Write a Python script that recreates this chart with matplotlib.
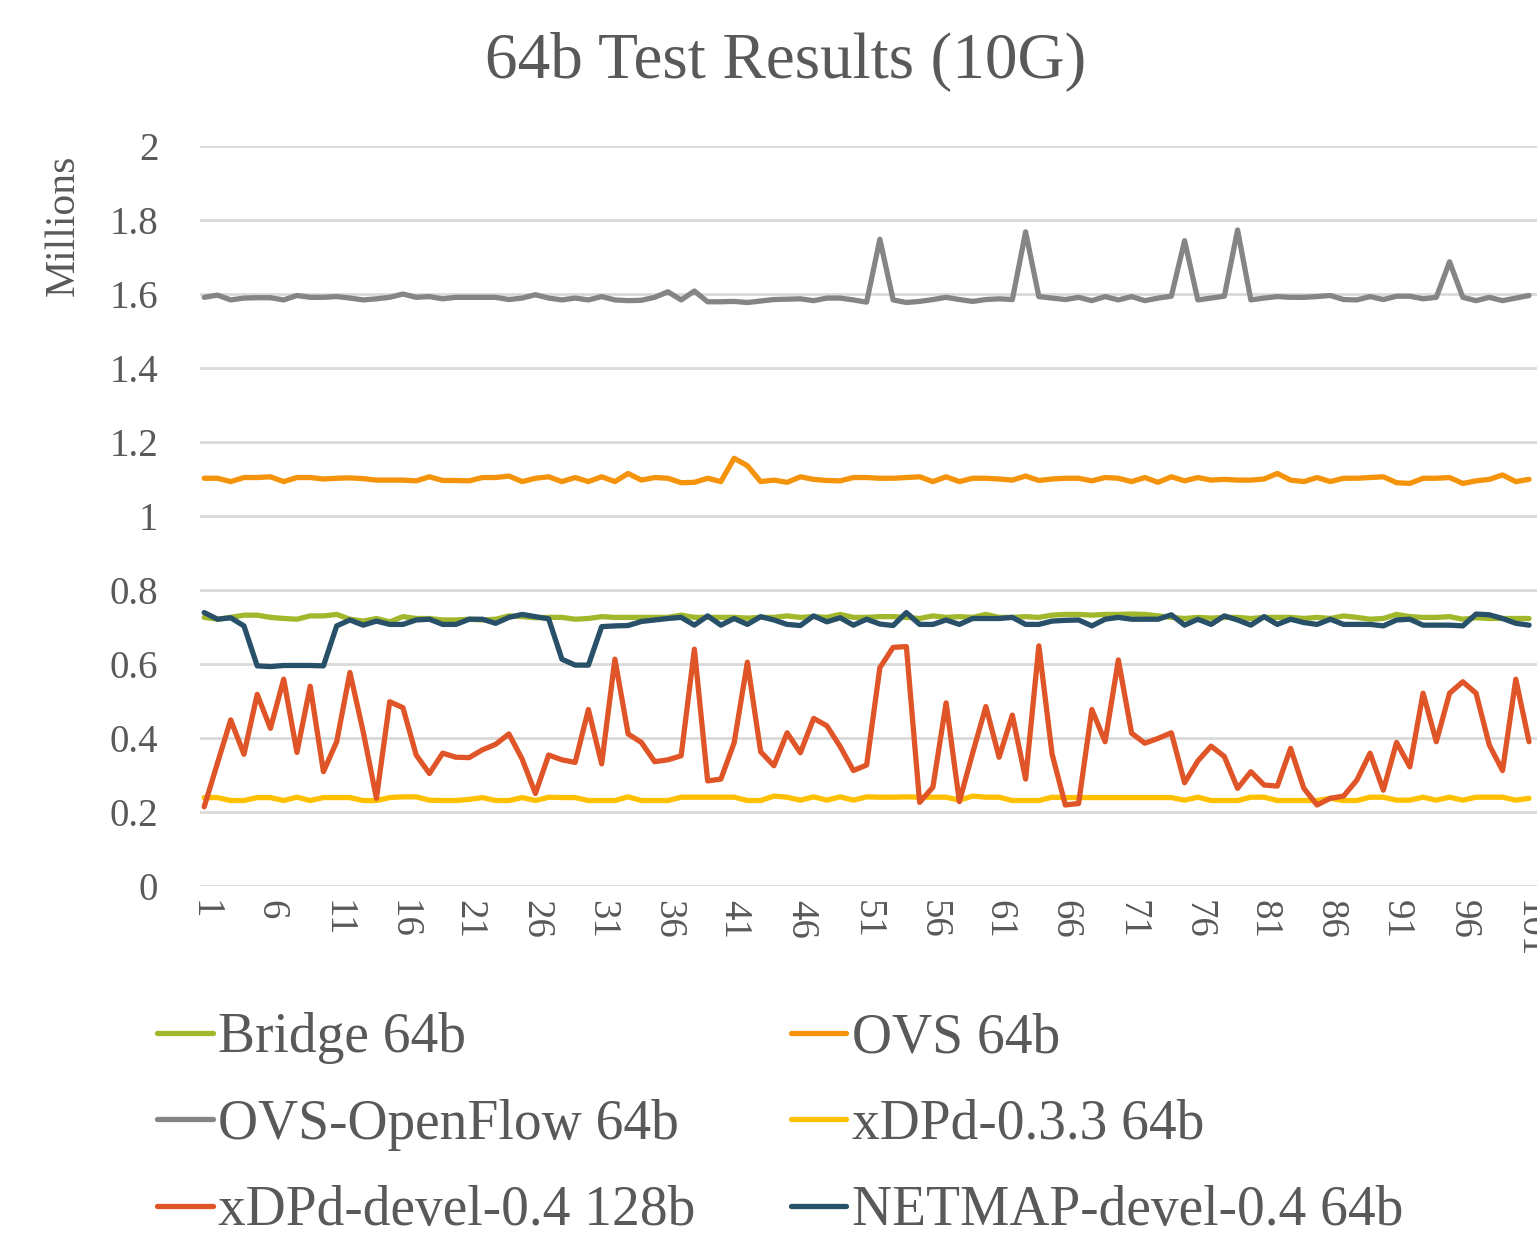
import matplotlib
matplotlib.use('Agg')
import matplotlib.pyplot as plt
import numpy as np

plt.rcParams['font.family'] = ['Liberation Serif', 'DejaVu Serif']

runs = np.arange(1, 102)

bridge = [0.726, 0.721, 0.726, 0.732, 0.732, 0.726, 0.723, 0.721, 0.730, 0.730,
          0.734, 0.721, 0.716, 0.723, 0.714, 0.728, 0.723, 0.723, 0.719, 0.719,
          0.721, 0.719, 0.721, 0.730, 0.728, 0.725, 0.726, 0.726, 0.721, 0.723,
          0.728, 0.726, 0.726, 0.726, 0.726, 0.726, 0.732, 0.726, 0.726, 0.726,
          0.726, 0.724, 0.726, 0.726, 0.730, 0.726, 0.728, 0.726, 0.734, 0.726,
          0.726, 0.728, 0.728, 0.726, 0.723, 0.730, 0.726, 0.728, 0.726, 0.734,
          0.726, 0.726, 0.728, 0.726, 0.732, 0.734, 0.734, 0.732, 0.734, 0.734,
          0.735, 0.734, 0.730, 0.726, 0.723, 0.726, 0.724, 0.726, 0.726, 0.723,
          0.726, 0.726, 0.726, 0.723, 0.726, 0.723, 0.730, 0.726, 0.721, 0.723,
          0.734, 0.728, 0.726, 0.726, 0.728, 0.721, 0.725, 0.723, 0.723, 0.723,
          0.723]

ovs = [1.102, 1.102, 1.093, 1.104, 1.104, 1.106, 1.093, 1.104, 1.104, 1.100,
       1.102, 1.103, 1.101, 1.097, 1.097, 1.097, 1.095, 1.106, 1.096, 1.096,
       1.095, 1.104, 1.104, 1.108, 1.093, 1.102, 1.106, 1.093, 1.104, 1.093,
       1.106, 1.093, 1.115, 1.097, 1.104, 1.102, 1.090, 1.091, 1.102, 1.093,
       1.156, 1.136, 1.093, 1.097, 1.091, 1.106, 1.099, 1.096, 1.095, 1.104,
       1.104, 1.102, 1.102, 1.104, 1.106, 1.093, 1.106, 1.093, 1.102, 1.102,
       1.100, 1.097, 1.108, 1.096, 1.100, 1.102, 1.102, 1.095, 1.104, 1.102,
       1.093, 1.104, 1.091, 1.106, 1.095, 1.104, 1.097, 1.099, 1.097, 1.097,
       1.100, 1.115, 1.097, 1.093, 1.104, 1.093, 1.102, 1.102, 1.104, 1.106,
       1.090, 1.088, 1.102, 1.102, 1.104, 1.088, 1.095, 1.099, 1.111, 1.093,
       1.099]

ovs_openflow = [1.591, 1.597, 1.584, 1.589, 1.590, 1.590, 1.584, 1.596, 1.591, 1.591,
                1.593, 1.589, 1.584, 1.587, 1.591, 1.600, 1.591, 1.593, 1.587, 1.591,
                1.591, 1.591, 1.591, 1.585, 1.589, 1.598, 1.589, 1.584, 1.589, 1.584,
                1.593, 1.584, 1.582, 1.583, 1.591, 1.606, 1.584, 1.608, 1.579, 1.579,
                1.580, 1.577, 1.581, 1.585, 1.586, 1.587, 1.582, 1.589, 1.589, 1.584,
                1.578, 1.748, 1.584, 1.577, 1.580, 1.585, 1.591, 1.585, 1.580, 1.585,
                1.587, 1.585, 1.768, 1.593, 1.589, 1.585, 1.591, 1.582, 1.593, 1.584,
                1.593, 1.582, 1.589, 1.594, 1.744, 1.584, 1.589, 1.594, 1.773, 1.584,
                1.589, 1.593, 1.591, 1.591, 1.593, 1.596, 1.585, 1.584, 1.593, 1.585,
                1.594, 1.594, 1.587, 1.591, 1.687, 1.591, 1.582, 1.591, 1.582, 1.589,
                1.596]

xdpd_033 = [0.239, 0.239, 0.231, 0.231, 0.239, 0.239, 0.231, 0.240, 0.231, 0.239,
            0.239, 0.239, 0.231, 0.231, 0.239, 0.241, 0.241, 0.232, 0.231, 0.231,
            0.234, 0.239, 0.231, 0.231, 0.239, 0.231, 0.240, 0.239, 0.239, 0.231,
            0.231, 0.231, 0.241, 0.231, 0.231, 0.231, 0.240, 0.240, 0.240, 0.240,
            0.240, 0.231, 0.231, 0.243, 0.240, 0.232, 0.241, 0.232, 0.241, 0.232,
            0.241, 0.240, 0.240, 0.241, 0.240, 0.240, 0.240, 0.232, 0.243, 0.240,
            0.240, 0.231, 0.231, 0.231, 0.240, 0.239, 0.239, 0.239, 0.239, 0.239,
            0.239, 0.239, 0.239, 0.239, 0.232, 0.240, 0.231, 0.231, 0.231, 0.240,
            0.240, 0.231, 0.231, 0.231, 0.231, 0.237, 0.231, 0.231, 0.240, 0.240,
            0.232, 0.232, 0.240, 0.232, 0.240, 0.232, 0.240, 0.240, 0.240, 0.232,
            0.237]

xdpd_devel = [0.214, 0.332, 0.449, 0.356, 0.518, 0.426, 0.559, 0.361, 0.540, 0.309,
              0.390, 0.577, 0.417, 0.237, 0.498, 0.482, 0.354, 0.304, 0.359, 0.348,
              0.347, 0.368, 0.383, 0.411, 0.343, 0.250, 0.354, 0.341, 0.334, 0.477,
              0.330, 0.613, 0.411, 0.388, 0.336, 0.341, 0.352, 0.640, 0.284, 0.289,
              0.387, 0.605, 0.363, 0.325, 0.414, 0.360, 0.453, 0.433, 0.377, 0.312,
              0.327, 0.590, 0.645, 0.647, 0.226, 0.267, 0.495, 0.228, 0.359, 0.485,
              0.348, 0.462, 0.289, 0.649, 0.356, 0.219, 0.223, 0.477, 0.390, 0.611,
              0.413, 0.386, 0.399, 0.414, 0.279, 0.338, 0.378, 0.350, 0.264, 0.309,
              0.273, 0.270, 0.372, 0.264, 0.219, 0.237, 0.243, 0.286, 0.359, 0.259,
              0.388, 0.322, 0.521, 0.390, 0.521, 0.552, 0.521, 0.381, 0.312, 0.559,
              0.390]

netmap = [0.739, 0.721, 0.725, 0.703, 0.595, 0.593, 0.596, 0.596, 0.596, 0.595,
          0.703, 0.719, 0.705, 0.716, 0.707, 0.707, 0.719, 0.721, 0.707, 0.707,
          0.721, 0.721, 0.710, 0.726, 0.734, 0.728, 0.722, 0.613, 0.597, 0.597,
          0.701, 0.703, 0.704, 0.715, 0.719, 0.723, 0.726, 0.705, 0.730, 0.705,
          0.723, 0.707, 0.728, 0.719, 0.707, 0.704, 0.730, 0.714, 0.725, 0.705,
          0.721, 0.708, 0.704, 0.739, 0.707, 0.707, 0.719, 0.707, 0.723, 0.723,
          0.723, 0.726, 0.707, 0.707, 0.716, 0.718, 0.719, 0.703, 0.721, 0.726,
          0.721, 0.721, 0.721, 0.733, 0.705, 0.721, 0.707, 0.730, 0.719, 0.705,
          0.728, 0.707, 0.721, 0.712, 0.707, 0.721, 0.707, 0.707, 0.707, 0.703,
          0.719, 0.721, 0.705, 0.705, 0.705, 0.703, 0.735, 0.733, 0.723, 0.710,
          0.705]

series = [
    ('Bridge 64b', bridge, '#a2b82c'),
    ('OVS 64b', ovs, '#f5930a'),
    ('OVS-OpenFlow 64b', ovs_openflow, '#858585'),
    ('xDPd-0.3.3 64b', xdpd_033, '#ffc000'),
    ('xDPd-devel-0.4 128b', xdpd_devel, '#e05527'),
    ('NETMAP-devel-0.4 64b', netmap, '#285068'),
]

text_color = '#595959'

fig = plt.figure(figsize=(15.37, 12.41), dpi=100)
ax = fig.add_axes([200 / 1537, 1 - 886 / 1241, 1337 / 1537, 740 / 1241])

lines = {}
for name, vals, col in series:
    lines[name], = ax.plot(runs, vals, color=col, lw=3.8, label=name,
                           solid_capstyle='round', solid_joinstyle='round')

ax.set_xlim(0.683, 101.6)
ax.set_ylim(0, 2)
ax.set_yticks(np.arange(0, 2.01, 0.2))
ax.set_yticklabels(['0', '0.2', '0.4', '0.6', '0.8', '1', '1.2', '1.4', '1.6', '1.8', '2'])
ax.set_xticks(np.arange(1, 102, 5))
ax.grid(axis='y', color='#d9d9d9', lw=2)
ax.set_axisbelow(True)
for s in ax.spines.values():
    s.set_visible(False)
ax.tick_params(axis='y', length=0, pad=30, labelsize=28, labelcolor=text_color)
ax.tick_params(axis='x', length=0, pad=10, labelsize=28, labelcolor=text_color)
for lbl in ax.get_xticklabels():
    lbl.set_rotation(-90)
    lbl.set_va('top')
    lbl.set_ha('center')

ax.set_ylabel('Millions', fontsize=30, color=text_color)
ax.yaxis.set_label_coords(-0.088, 0.893)

fig.text(786 / 1537, 1 - 62 / 1241, '64b Test Results (10G)', fontsize=47,
         color=text_color, ha='center', va='center')

order = ['Bridge 64b', 'OVS-OpenFlow 64b', 'xDPd-devel-0.4 128b',
         'OVS 64b', 'xDPd-0.3.3 64b', 'NETMAP-devel-0.4 64b']
leg = fig.legend([lines[n] for n in order], order, ncol=2, loc='upper left',
                 bbox_to_anchor=(135 / 1537, 1 - 990 / 1241), frameon=False,
                 fontsize=40, handlelength=1.0, handletextpad=0.1,
                 columnspacing=1.71, labelspacing=0.62, borderaxespad=0)
for t in leg.get_texts():
    t.set_color(text_color)

fig.savefig('out.png', dpi=100)
